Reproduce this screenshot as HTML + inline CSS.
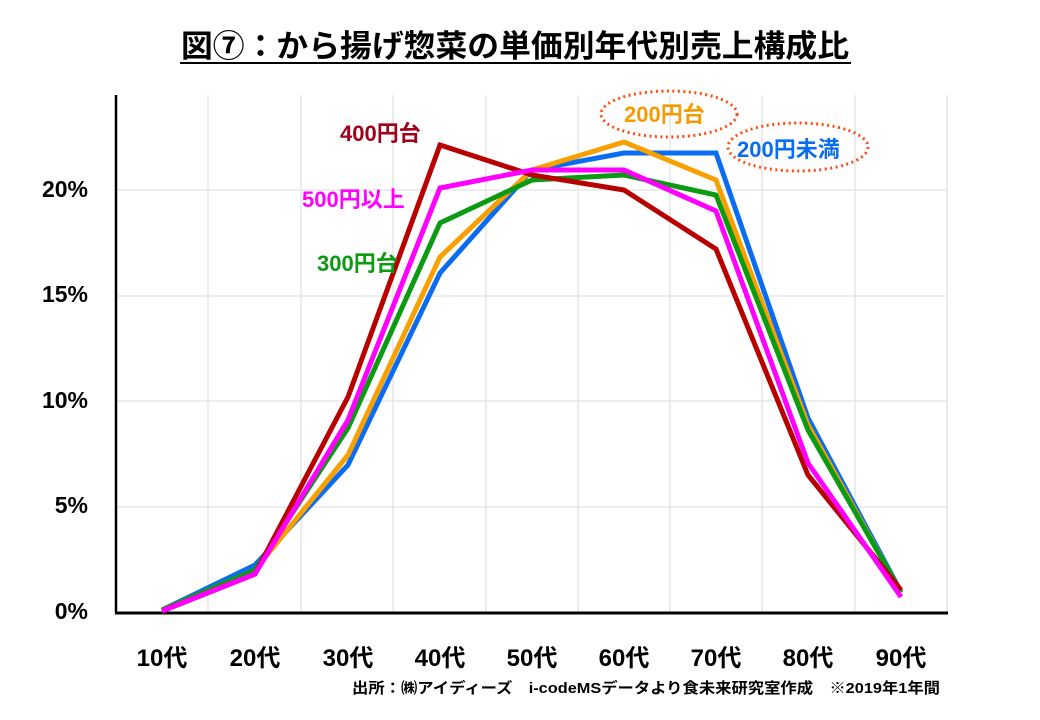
<!DOCTYPE html>
<html><head><meta charset="utf-8"><style>
body{margin:0;background:#fff;}
svg{display:block;font-family:"Liberation Sans","Noto Sans CJK JP",sans-serif;font-weight:bold;}
</style></head><body>
<svg width="1040" height="720" viewBox="0 0 1040 720">
<text x="515" y="57" text-anchor="middle" font-size="31" fill="#000" textLength="668" lengthAdjust="spacingAndGlyphs">図⑦：から揚げ惣菜の単価別年代別売上構成比</text>
<line x1="180" y1="63" x2="851" y2="63" stroke="#000" stroke-width="2"/>
<g stroke="#e2e2e2" stroke-width="1.3">
<line x1="116" y1="190" x2="947" y2="190"/><line x1="116" y1="296" x2="947" y2="296"/>
<line x1="116" y1="401" x2="947" y2="401"/><line x1="116" y1="507" x2="947" y2="507"/>
<line x1="208" y1="95" x2="208" y2="612"/><line x1="301" y1="95" x2="301" y2="612"/>
<line x1="393" y1="95" x2="393" y2="612"/><line x1="486" y1="95" x2="486" y2="612"/>
<line x1="578" y1="95" x2="578" y2="612"/><line x1="670" y1="95" x2="670" y2="612"/>
<line x1="762" y1="95" x2="762" y2="612"/><line x1="855" y1="95" x2="855" y2="612"/>
<line x1="947" y1="95" x2="947" y2="612"/>
</g>
<line x1="116" y1="95" x2="116" y2="613" stroke="#000" stroke-width="2.5"/>
<line x1="115" y1="613" x2="948" y2="613" stroke="#000" stroke-width="3"/>
<g font-size="23" text-anchor="end" fill="#000">
<text x="88" y="619">0%</text><text x="88" y="513">5%</text><text x="88" y="408">10%</text>
<text x="88" y="302">15%</text><text x="88" y="197">20%</text>
</g>
<g font-size="24" text-anchor="middle" fill="#000">
<text x="162" y="666">10代</text><text x="255" y="666">20代</text><text x="348" y="666">30代</text>
<text x="440" y="666">40代</text><text x="532" y="666">50代</text><text x="624" y="666">60代</text>
<text x="716" y="666">70代</text><text x="808" y="666">80代</text><text x="901" y="666">90代</text>
</g>
<text x="940" y="693" text-anchor="end" font-size="15" fill="#000" textLength="588" lengthAdjust="spacingAndGlyphs">出所：㈱アイディーズ　i-codeMSデータより食未来研究室作成　※2019年1年間</text>
<g fill="none" stroke-width="5" stroke-linejoin="miter">
<polyline stroke="#0a6cf0" points="162,610 255,565 348,465 440,273 532,170 624,153 716,153 808,418 901,592"/>
<polyline stroke="#f7a000" points="162,610 255,570 348,455 440,257 532,170 624,142 716,180 808,425 901,593"/>
<polyline stroke="#0b9a12" points="162,610 255,570 348,428 440,223 532,180 624,175 716,195 808,430 901,592"/>
<polyline stroke="#b80000" points="162,611 255,574 348,397 440,145 532,175 624,190 716,249 808,475 901,590"/>
<polyline stroke="#ff00ff" points="162,611 255,574 348,420 440,188 532,170 624,170 716,211 808,463 901,597"/>
</g>
<g font-size="22">
<text x="340" y="141" fill="#a0001a">400円台</text>
<text x="302" y="207" fill="#ff00ff">500円以上</text>
<text x="317" y="271" fill="#0b9a12">300円台</text>
<text x="624" y="122" fill="#f79a00">200円台</text>
<text x="737" y="157" fill="#0a6cf0">200円未満</text>
</g>
<g fill="none" stroke="#ff4a10" stroke-width="3" stroke-dasharray="2 3.5">
<ellipse cx="669" cy="114" rx="68" ry="23"/>
<ellipse cx="798" cy="147" rx="70" ry="24"/>
</g>
</svg>
</body></html>
